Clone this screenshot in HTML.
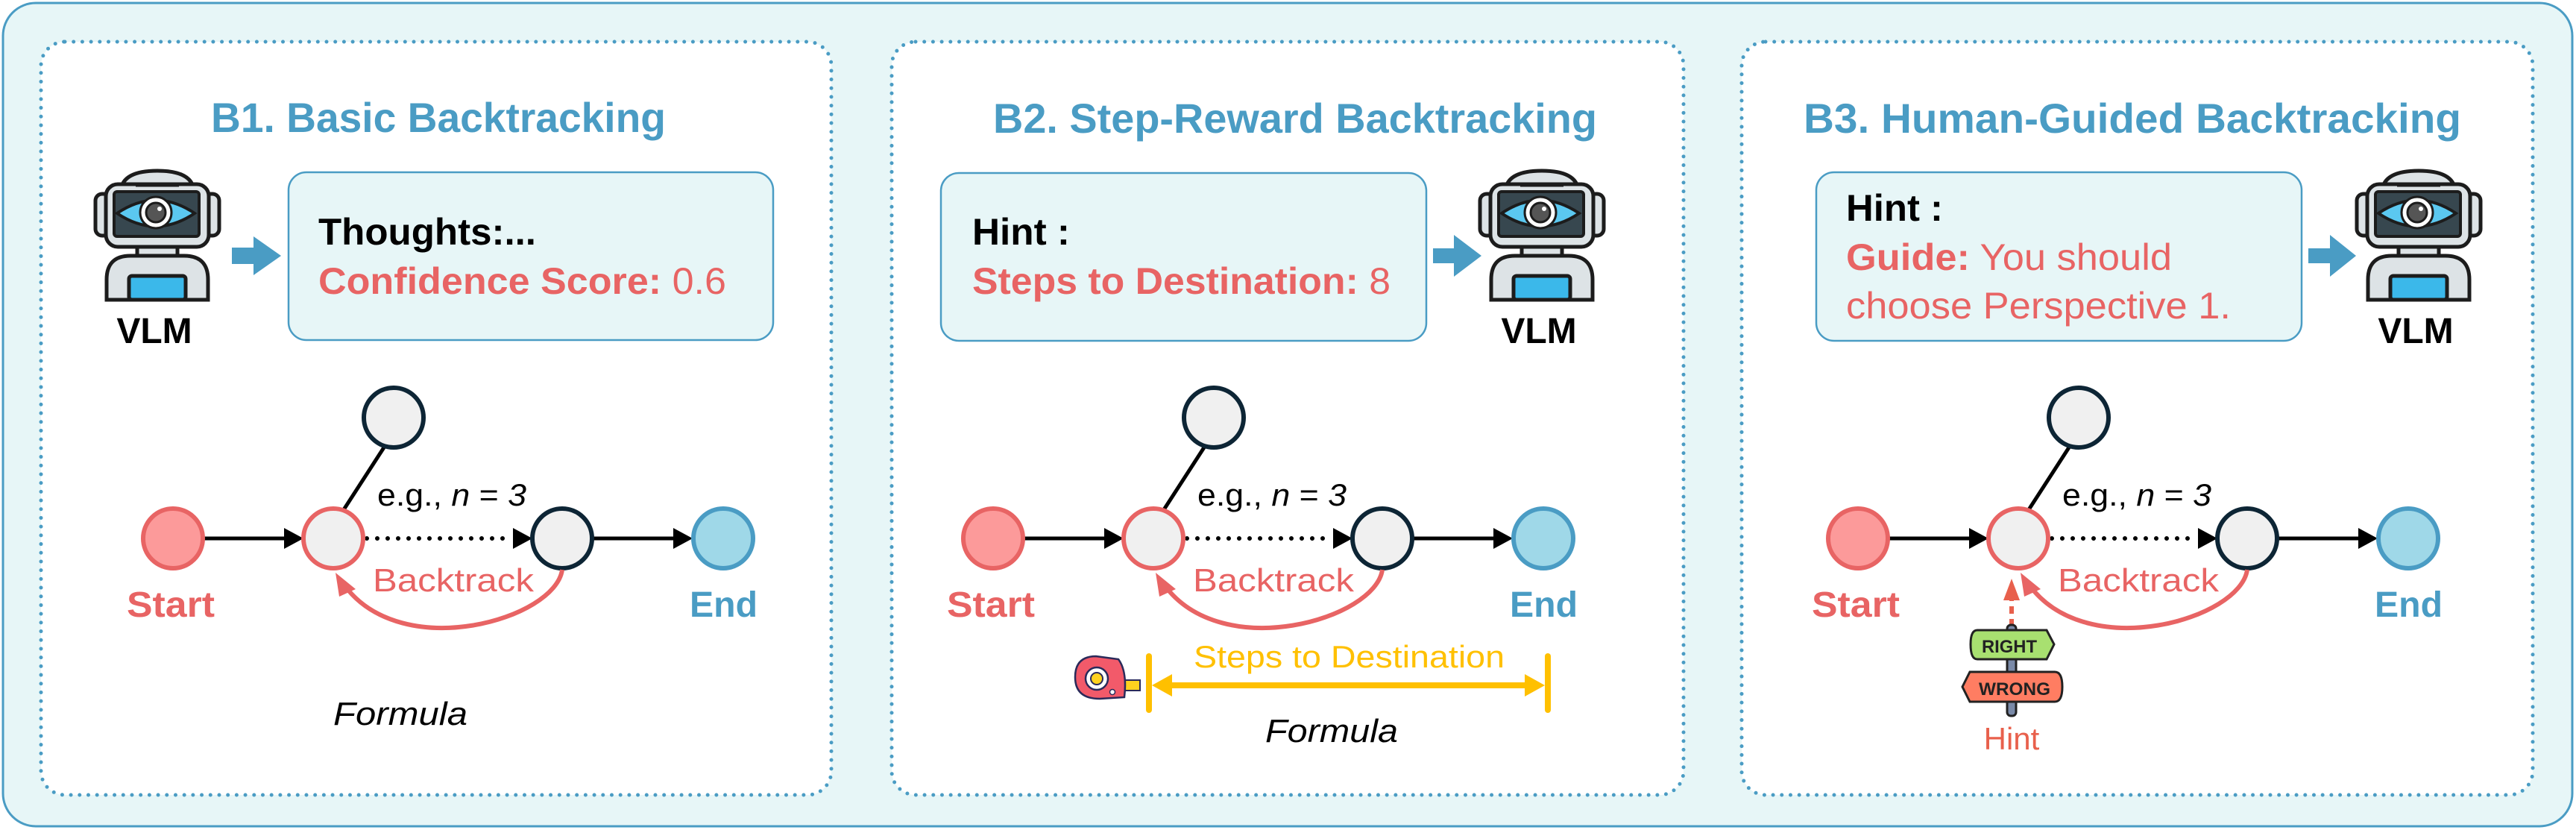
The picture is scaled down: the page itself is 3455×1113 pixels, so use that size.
<!DOCTYPE html>
<html><head><meta charset="utf-8"><style>
html,body{margin:0;padding:0;background:#fff}
svg{display:block}
text{font-family:"Liberation Sans",sans-serif}
</style></head><body>
<svg width="3455" height="1113" viewBox="0 0 3455 1113" xmlns="http://www.w3.org/2000/svg">
<defs>
<marker id="ab" markerWidth="10" markerHeight="10" refX="9" refY="5" orient="auto" markerUnits="userSpaceOnUse" viewBox="0 0 10 10">
</marker>
<g id="robot">
 <path d="M52,40 Q55,14 101,14 Q147,14 150,40 Z" fill="#dde3e6" stroke="#1c1c1c" stroke-width="5"/>
 <rect x="18" y="45" width="20" height="56" rx="9" fill="#dde3e6" stroke="#1c1c1c" stroke-width="5"/>
 <rect x="164" y="45" width="20" height="56" rx="9" fill="#dde3e6" stroke="#1c1c1c" stroke-width="5"/>
 <rect x="74" y="112" width="54" height="20" fill="#dde3e6" stroke="#1c1c1c" stroke-width="5"/>
 <path d="M33,187 L33,160 Q33,128 65,128 L137,128 Q169,128 169,160 L169,187 Z" fill="#dde3e6" stroke="#1c1c1c" stroke-width="5"/>
 <rect x="63" y="155" width="76" height="32" rx="4" fill="#3bb8ea" stroke="#1c1c1c" stroke-width="5"/>
 <rect x="32" y="32" width="138" height="84" rx="16" fill="#dde3e6" stroke="#1c1c1c" stroke-width="5"/>
 <path d="M72,33 L130,33" stroke="#1c1c1c" stroke-width="5"/>
 <rect x="43" y="42" width="114" height="60" rx="4" fill="#37474f" stroke="#1c1c1c" stroke-width="4"/>
 <path d="M47,71 Q99,36 151,71 Q99,106 47,71 Z" fill="#5bc8f0" stroke="#1c1c1c" stroke-width="4"/>
 <circle cx="99" cy="70" r="21" fill="#fff" stroke="#1c1c1c" stroke-width="3"/>
 <circle cx="99" cy="70" r="13" fill="#555" stroke="#1c1c1c" stroke-width="3"/>
 <circle cx="104" cy="65" r="3" fill="#fff"/>
</g>
<g id="graph">
 <line x1="460" y1="685" x2="515" y2="600" stroke="#000" stroke-width="5"/>
 <circle cx="528" cy="560" r="40" fill="#f0f0f0" stroke="#0d2535" stroke-width="6"/>
 <line x1="273" y1="722" x2="383" y2="722" stroke="#000" stroke-width="5"/>
 <polygon points="381,708 407,722 381,736" fill="#000"/>
 <line x1="492" y1="722" x2="686" y2="722" stroke="#000" stroke-width="6" stroke-linecap="round" stroke-dasharray="0 14"/>
 <polygon points="688,708 714,722 688,736" fill="#000"/>
 <line x1="795" y1="722" x2="905" y2="722" stroke="#000" stroke-width="5"/>
 <polygon points="903,708 929,722 903,736" fill="#000"/>
 <circle cx="232" cy="722" r="40" fill="#fc9a9a" stroke="#e86464" stroke-width="6"/>
 <circle cx="447" cy="722" r="40" fill="#f0f0f0" stroke="#e86464" stroke-width="6"/>
 <circle cx="754" cy="722" r="40" fill="#f0f0f0" stroke="#0d2535" stroke-width="6"/>
 <circle cx="970" cy="722" r="40" fill="#9fd8e8" stroke="#4a9cc4" stroke-width="6"/>
 <path d="M754,764 C745,830 540,890 462,785" fill="none" stroke="#e86464" stroke-width="6"/>
 <polygon points="450,768 477,790 455,800" fill="#e86464"/>
 <text x="506" y="678" font-size="42" textLength="200" lengthAdjust="spacingAndGlyphs">e.g., <tspan font-style="italic">n</tspan> = <tspan font-style="italic">3</tspan></text>
 <text x="500" y="793" font-size="44" fill="#e86464" textLength="216" lengthAdjust="spacingAndGlyphs">Backtrack</text>
 <text x="170" y="827" font-size="48" font-weight="bold" fill="#e86464" textLength="118" lengthAdjust="spacingAndGlyphs">Start</text>
 <text x="925" y="827" font-size="48" font-weight="bold" fill="#4a9cc4" textLength="91" lengthAdjust="spacingAndGlyphs">End</text>
</g>
</defs>

<rect x="4" y="4" width="3446" height="1104" rx="44" fill="#e7f6f7" stroke="#4a9cc4" stroke-width="3"/>
<g fill="#fff" stroke="#4a9cc4" stroke-width="5" stroke-linecap="round" stroke-dasharray="0 11.7">
 <rect x="55" y="56" width="1060" height="1010" rx="32"/>
 <rect x="1196" y="56" width="1062" height="1010" rx="32"/>
 <rect x="2336" y="56" width="1061" height="1010" rx="32"/>
</g>

<!-- B1 -->
<text x="283" y="177" font-size="56" font-weight="bold" fill="#4a9cc4" textLength="610" lengthAdjust="spacingAndGlyphs">B1. Basic Backtracking</text>
<use href="#robot" x="110" y="215"/>
<text x="207" y="460" font-size="48" font-weight="bold" text-anchor="middle">VLM</text>
<polygon points="311,332 340,332 340,317 377,343 340,369 340,354 311,354" fill="#4a9cc4"/>
<rect x="387" y="231" width="650" height="225" rx="24" fill="#e7f6f7" stroke="#4a9cc4" stroke-width="2.5"/>
<text x="427" y="328" font-size="50" font-weight="bold" textLength="292" lengthAdjust="spacingAndGlyphs">Thoughts:...</text>
<text x="427" y="394" font-size="50" fill="#e86464" textLength="547" lengthAdjust="spacingAndGlyphs"><tspan font-weight="bold">Confidence Score:</tspan> 0.6</text>
<use href="#graph"/>
<text x="447" y="972" font-size="44" font-style="italic" textLength="180" lengthAdjust="spacingAndGlyphs">Formula</text>

<!-- B2 -->
<text x="1332" y="178" font-size="56" font-weight="bold" fill="#4a9cc4" textLength="810" lengthAdjust="spacingAndGlyphs">B2. Step-Reward Backtracking</text>
<rect x="1262" y="232" width="651" height="225" rx="24" fill="#e7f6f7" stroke="#4a9cc4" stroke-width="2.5"/>
<text x="1304" y="328" font-size="50" font-weight="bold" textLength="131" lengthAdjust="spacingAndGlyphs">Hint :</text>
<text x="1304" y="394" font-size="50" fill="#e86464" textLength="561" lengthAdjust="spacingAndGlyphs"><tspan font-weight="bold">Steps to Destination:</tspan> 8</text>
<polygon points="1922,333 1950,333 1950,315 1987,343 1950,371 1950,353 1922,353" fill="#4a9cc4"/>
<use href="#robot" x="1967" y="215"/>
<text x="2064" y="460" font-size="48" font-weight="bold" text-anchor="middle">VLM</text>
<use href="#graph" x="1100"/>
<line x1="1541" y1="880" x2="1541" y2="952" stroke="#ffc000" stroke-width="8" stroke-linecap="round"/>
<line x1="2076" y1="880" x2="2076" y2="952" stroke="#ffc000" stroke-width="8" stroke-linecap="round"/>
<line x1="1565" y1="919" x2="2052" y2="919" stroke="#ffc000" stroke-width="8"/>
<polygon points="1545,919 1572,904 1572,934" fill="#ffc000"/>
<polygon points="2072,919 2045,904 2045,934" fill="#ffc000"/>
<text x="1601" y="895" font-size="42" fill="#ffc000" textLength="417" lengthAdjust="spacingAndGlyphs">Steps to Destination</text>
<text x="1697" y="995" font-size="44" font-style="italic" textLength="178" lengthAdjust="spacingAndGlyphs">Formula</text>
<!-- tape -->
<rect x="1505" y="912" width="24" height="14" fill="#ffd21f" stroke="#2a2a5a" stroke-width="2"/>
<path d="M1470,880 L1500,884 Q1512,900 1508,935 L1475,937 Q1442,937 1442,908 Q1442,880 1470,880 Z" fill="#f25a6a" stroke="#2a2a5a" stroke-width="2.5"/>
<circle cx="1471" cy="910" r="15" fill="#fff" stroke="#2a2a5a" stroke-width="2.5"/>
<circle cx="1471" cy="910" r="8" fill="#ffd21f" stroke="#2a2a5a" stroke-width="2"/>
<circle cx="1492" cy="928" r="3.5" fill="#fff" stroke="#2a2a5a" stroke-width="1.5"/>

<!-- B3 -->
<text x="2419" y="178" font-size="56" font-weight="bold" fill="#4a9cc4" textLength="882" lengthAdjust="spacingAndGlyphs">B3. Human-Guided Backtracking</text>
<rect x="2436" y="231" width="651" height="226" rx="24" fill="#e7f6f7" stroke="#4a9cc4" stroke-width="2.5"/>
<text x="2476" y="296" font-size="50" font-weight="bold" textLength="130" lengthAdjust="spacingAndGlyphs">Hint :</text>
<text x="2476" y="362" font-size="50" fill="#e86464" textLength="437" lengthAdjust="spacingAndGlyphs"><tspan font-weight="bold">Guide:</tspan> You should</text>
<text x="2476" y="427" font-size="50" fill="#e86464" textLength="516" lengthAdjust="spacingAndGlyphs">choose Perspective 1.</text>
<polygon points="3096,333 3125,333 3125,315 3160,343 3125,371 3125,353 3096,353" fill="#4a9cc4"/>
<use href="#robot" x="3143" y="215"/>
<text x="3240" y="460" font-size="48" font-weight="bold" text-anchor="middle">VLM</text>
<use href="#graph" x="2260"/>
<line x1="2698" y1="840" x2="2698" y2="803" stroke="#e8604c" stroke-width="6" stroke-dasharray="10 7"/>
<polygon points="2698,776 2687,805 2709,805" fill="#e8604c"/>
<rect x="2692" y="838" width="12" height="122" rx="5" fill="#7a8aa8" stroke="#222" stroke-width="3"/>
<path d="M2652,845 L2745,845 L2755,864 L2745,884 L2652,884 Q2643,884 2643,864 Q2643,845 2652,845 Z" fill="#a8e070" stroke="#222" stroke-width="3"/>
<text x="2695" y="875" font-size="24" font-weight="bold" text-anchor="middle" fill="#222" textLength="74" lengthAdjust="spacingAndGlyphs">RIGHT</text>
<path d="M2642,901 L2756,901 Q2766,901 2766,921 Q2766,941 2756,941 L2642,941 L2632,921 Z" fill="#ff7d62" stroke="#222" stroke-width="3"/>
<text x="2702" y="932" font-size="24" font-weight="bold" text-anchor="middle" fill="#222" textLength="96" lengthAdjust="spacingAndGlyphs">WRONG</text>
<text x="2698" y="1005" font-size="42" fill="#e8604c" text-anchor="middle">Hint</text>
</svg>
</body></html>
